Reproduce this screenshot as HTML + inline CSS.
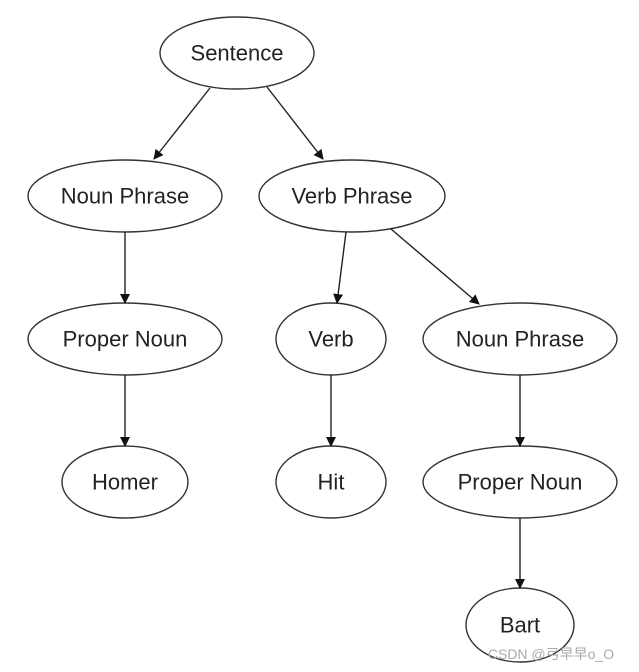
<!DOCTYPE html>
<html><head><meta charset="utf-8"><style>
html,body{margin:0;padding:0;background:#fff;}
svg{display:block;}
text{font-family:"Liberation Sans","DejaVu Sans",sans-serif;font-size:22px;fill:#222;text-anchor:middle;dominant-baseline:central;}
</style></head><body>
<svg width="639" height="672" viewBox="0 0 639 672" xmlns="http://www.w3.org/2000/svg">
<defs><marker id="a" markerWidth="10" markerHeight="10" refX="9" refY="5" orient="auto" markerUnits="userSpaceOnUse"><path d="M0,0 L10,5 L0,10 z" fill="#111"/></marker></defs>
<g fill="none" stroke="#333" stroke-width="1.4">
<ellipse cx="237" cy="53" rx="77" ry="36"/>
<ellipse cx="125" cy="196" rx="97" ry="36"/>
<ellipse cx="352" cy="196" rx="93" ry="36"/>
<ellipse cx="125" cy="339" rx="97" ry="36"/>
<ellipse cx="331" cy="339" rx="55" ry="36"/>
<ellipse cx="520" cy="339" rx="97" ry="36"/>
<ellipse cx="125" cy="482" rx="63" ry="36"/>
<ellipse cx="331" cy="482" rx="55" ry="36"/>
<ellipse cx="520" cy="482" rx="97" ry="36"/>
<ellipse cx="520" cy="625" rx="54" ry="37"/>
</g>
<g stroke="#222" stroke-width="1.4" marker-end="url(#a)">
<line x1="210" y1="88" x2="154" y2="159"/>
<line x1="267" y1="87" x2="323" y2="159"/>
<line x1="125" y1="232" x2="125" y2="303"/>
<line x1="346" y1="232" x2="337" y2="303"/>
<line x1="391" y1="229" x2="479" y2="304"/>
<line x1="125" y1="375" x2="125" y2="446"/>
<line x1="331" y1="375" x2="331" y2="446"/>
<line x1="520" y1="375" x2="520" y2="446"/>
<line x1="520" y1="518" x2="520" y2="588"/>
</g>
<text x="237" y="53">Sentence</text>
<text x="125" y="196">Noun Phrase</text>
<text x="352" y="196">Verb Phrase</text>
<text x="125" y="339">Proper Noun</text>
<text x="331" y="339">Verb</text>
<text x="520" y="339">Noun Phrase</text>
<text x="125" y="482">Homer</text>
<text x="331" y="482">Hit</text>
<text x="520" y="482">Proper Noun</text>
<text x="520" y="625">Bart</text>
<text x="551" y="654" style="font-size:14px;fill:#aaa;font-family:'Liberation Sans','Noto Sans CJK SC',sans-serif">CSDN @弓早早o_O</text>
</svg>
</body></html>
